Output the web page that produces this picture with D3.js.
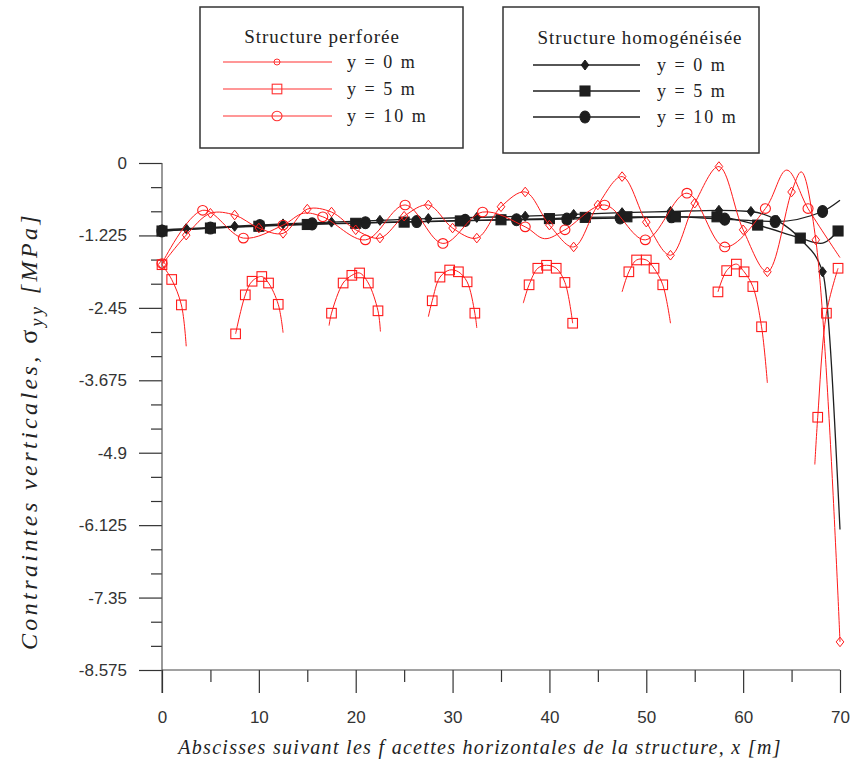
<!DOCTYPE html>
<html><head><meta charset="utf-8">
<script src="https://cdn.jsdelivr.net/npm/d3@7/dist/d3.min.js"></script>
<style>body{margin:0;background:#fff}svg{display:block}</style>
</head><body>
<svg id="c" width="851" height="767"></svg>
<script>
// ---------- data ----------
const xTickValues = [0,10,20,30,40,50,60,70];
const xMinorValues = [5,15,25,35,45,55,65];
const yTickValues = [0,-1.225,-2.45,-3.675,-4.9,-6.125,-7.35,-8.575];
const yTickLabels = ["0","-1.225","-2.45","-3.675","-4.9","-6.125","-7.35","-8.575"];

const legendTitles = ["Structure perforée","Structure homogénéisée"];
const legendLabels = ["y = 0 m","y = 5 m","y = 10 m"];
const xTitle = "Abscisses suivant les f acettes horizontales de la structure, x [m]";

// Structure perforée, y = 0 m
const perf0X = [0,2.5,5,7.5,10,12.5,15,17.5,20,22.5,25,27.5,30,32.5,35,37.5,40,42.5,45,47.5,50,52.5,55,57.5,60,62.5,65,66,67.5,70];
const perf0V = [-1.72,-1.22,-0.85,-0.88,-1.1,-1.19,-0.78,-0.83,-1.13,-1.27,-0.9,-0.71,-1.1,-1.27,-0.74,-0.49,-1.05,-1.42,-0.71,-0.23,-1.0,-1.56,-0.68,-0.06,-1.13,-1.84,-0.49,-0.15,-1.3,-8.1];
const perf0M = [1,1,1,1,1,1,1,1,1,1,1,1,1,1,1,1,1,1,1,1,1,1,1,1,1,1,1,0,1,1];

// Structure perforée, y = 10 m
const perf10X = [0,4.2,8.4,12.5,14.6,16.6,21,25.1,29,33.1,37.5,39.5,41.6,45.7,49.9,54.2,58.1,62.3,64.5,66.7,70];
const perf10V = [-1.7,-0.8,-1.27,-1.05,-0.85,-0.91,-1.3,-0.71,-1.36,-0.83,-1.08,-1.28,-1.13,-0.71,-1.3,-0.51,-1.42,-0.77,-0.12,-0.77,-1.6];
const perf10M = [1,1,1,1,0,1,1,1,1,1,1,0,1,1,1,1,1,1,0,1,0];

// Structure perforée, y = 5 m (arcs between the holes)
const perf5X = [
  [0,1.0,2.0,2.5],
  [7.6,8.6,9.3,10.3,11.0,12.0,12.5],
  [17.25,17.5,18.7,19.6,20.4,21.3,22.3,22.55],
  [27.5,27.9,28.7,29.7,30.6,31.5,32.3,32.5],
  [37.3,37.9,38.8,39.7,40.7,41.6,42.4],
  [47.5,48.2,49.0,50.0,50.8,51.7,52.5],
  [57.4,58.3,59.3,60.1,61.0,61.9,62.5],
  [67.4,67.7,68.6,69.8]
];
const perf5V = [
  [-1.72,-1.97,-2.40,-3.1],
  [-2.89,-2.23,-2.0,-1.92,-2.03,-2.39,-2.87],
  [-2.75,-2.54,-2.03,-1.90,-1.86,-2.03,-2.50,-2.85],
  [-2.6,-2.33,-1.93,-1.81,-1.84,-2.01,-2.54,-2.79],
  [-2.37,-2.06,-1.78,-1.73,-1.78,-2.02,-2.71],
  [-2.18,-1.84,-1.64,-1.64,-1.78,-2.06,-2.71],
  [-2.18,-1.82,-1.71,-1.84,-2.09,-2.77,-3.72],
  [-5.1,-4.3,-2.54,-1.78]
];
const perf5M = [
  [1,1,1,0],
  [1,1,1,1,1,1,0],
  [0,1,1,1,1,1,1,0],
  [0,1,1,1,1,1,1,0],
  [0,1,1,1,1,1,1],
  [0,1,1,1,1,1,0],
  [1,1,1,1,1,1,0],
  [0,1,1,1]
];

// Structure homogénéisée
const hom0X = [0,2.5,7.5,12.5,17.5,22.5,27.5,32.5,37.5,42.5,47.5,52.5,57.5,60.8,63.5,66,68.2,70];
const hom0V = [-1.13,-1.11,-1.07,-1.03,-1.0,-0.97,-0.94,-0.92,-0.9,-0.87,-0.84,-0.82,-0.8,-0.82,-0.97,-1.3,-1.84,-6.2];
const hom0M = [1,1,1,1,1,1,1,1,1,1,1,1,1,1,1,0,1,0];

const hom5X = [0,5,10,15,20,25,30.8,35,40,43.7,48,53,57.3,61.5,65.9,68,69.8];
const hom5V = [-1.15,-1.1,-1.07,-1.04,-1.02,-1.0,-0.98,-0.96,-0.94,-0.92,-0.91,-0.91,-0.91,-1.05,-1.27,-1.36,-1.15];
const hom5M = [1,1,1,1,1,1,1,1,1,1,1,1,1,1,1,0,1];

const hom10X = [0,5,10.1,15.5,21,26.3,31.3,36.6,41.8,47.3,52.6,58.1,63.3,68.2,70];
const hom10V = [-1.15,-1.1,-1.06,-1.03,-1.01,-0.99,-0.97,-0.96,-0.95,-0.93,-0.91,-0.95,-0.99,-0.82,-0.63];
const hom10M = [1,1,1,1,1,1,1,1,1,1,1,1,1,1,0];

// ---------- drawing ----------
const svg = d3.select("#c");
svg.append("rect").attr("width",851).attr("height",767).attr("fill","#fff");

const x = d3.scaleLinear().domain([0,70]).range([162,840]);
const y = d3.scaleLinear().domain([0,-8.575]).range([163,670]);

const RED = "#ff1a1a", BLACK = "#1e1e1e";
const tickFont = "'Liberation Sans', Arial, sans-serif";
const serif = "'Liberation Serif', 'Times New Roman', serif";

// y axis
const yMinor = [];
for (let i=0;i<yTickValues.length-1;i++){
  const a=yTickValues[i], b=yTickValues[i+1];
  yMinor.push(a+(b-a)/3, a+2*(b-a)/3);
}
const gy = svg.append("g").attr("transform","translate(162,0)");
gy.call(d3.axisLeft(y).tickValues(yTickValues).tickSize(23).tickPadding(12)
    .tickFormat((d,i)=>yTickLabels[i]));
gy.select(".domain").remove();
gy.append("g").call(d3.axisLeft(y).tickValues(yMinor).tickSize(11).tickFormat(""))
  .select(".domain").remove();
gy.selectAll("line").attr("stroke","#333").attr("stroke-width",1.2);
gy.selectAll("text").attr("font-family",tickFont).attr("font-size",17).attr("fill","#333");
svg.append("line").attr("x1",162).attr("x2",162).attr("y1",163).attr("y2",693)
  .attr("stroke","#555").attr("stroke-width",1.2);

// x axis
const gx = svg.append("g").attr("transform","translate(0,"+y(-8.575)+")");
gx.call(d3.axisBottom(x).tickValues(xTickValues).tickSize(23).tickPadding(18).tickFormat(d3.format("d")));
gx.select(".domain").remove();
gx.append("g").call(d3.axisBottom(x).tickValues(xMinorValues).tickSize(12).tickFormat(""))
  .select(".domain").remove();
gx.selectAll("line").attr("stroke","#333").attr("stroke-width",1.2);
gx.selectAll("text").attr("font-family",tickFont).attr("font-size",17).attr("fill","#333");
svg.append("line").attr("x1",162).attr("x2",840).attr("y1",y(-8.575)).attr("y2",y(-8.575))
  .attr("stroke","#444").attr("stroke-width",1);

// axis titles
svg.append("text").attr("x",480).attr("y",754).attr("text-anchor","middle")
  .attr("font-family",serif).attr("font-style","italic").attr("font-size",20)
  .attr("letter-spacing",1.3).attr("fill","#222").text(xTitle);

const yt = svg.append("text").attr("transform","translate(37,431) rotate(-90)")
  .attr("text-anchor","middle").attr("font-family",serif).attr("font-size",24)
  .attr("fill","#222").attr("letter-spacing",3.4);
yt.append("tspan").attr("font-style","italic").text("Contraintes verticales, ");
yt.append("tspan").attr("font-size",26).text("σ");
yt.append("tspan").attr("font-style","italic").attr("font-size",18).attr("dy",6).text("yy");
yt.append("tspan").attr("font-style","italic").attr("dy",-6).text(" [MPa]");

// helpers
const zip = (xs,vs)=>xs.map((d,i)=>[d,vs[i]]);
const smooth = d3.line().x(d=>x(d[0])).y(d=>y(d[1])).curve(d3.curveCatmullRom.alpha(0.5));
const mono = d3.line().x(d=>x(d[0])).y(d=>y(d[1])).curve(d3.curveMonotoneX);

function marker(g, type, cx, cy, color, filled){
  const fill = filled ? color : "none";
  if (type==="diamond"){
    const w = filled?3.8:3.8, h = filled?5:4.8;
    g.append("path").attr("d",`M${cx},${cy-h}L${cx+w},${cy}L${cx},${cy+h}L${cx-w},${cy}Z`)
      .attr("fill",fill).attr("stroke",color).attr("stroke-width",1);
  } else if (type==="square"){
    const s = filled?5:4.8;
    g.append("rect").attr("x",cx-s).attr("y",cy-s).attr("width",2*s).attr("height",2*s)
      .attr("fill",fill).attr("stroke",color).attr("stroke-width",1.1);
  } else if (type==="circle"){
    g.append("ellipse").attr("cx",cx).attr("cy",cy).attr("rx",filled?5:5).attr("ry",filled?6:4.8)
      .attr("fill",fill).attr("stroke",color).attr("stroke-width",1.1);
  } else if (type==="dot"){
    g.append("circle").attr("cx",cx).attr("cy",cy).attr("r",3)
      .attr("fill",fill).attr("stroke",color).attr("stroke-width",1);
  }
}

function series(xs, vs, ms, type, color, filled, curve){
  const g = svg.append("g");
  g.append("path").attr("d",curve(zip(xs,vs))).attr("fill","none")
    .attr("stroke",color).attr("stroke-width",filled?1.3:1);
  xs.forEach((d,i)=>{ if(ms[i]) marker(g,type,x(d),y(vs[i]),color,filled); });
}

// homogenised (black)
series(hom10X,hom10V,hom10M,"circle",BLACK,true,mono);
series(hom5X,hom5V,hom5M,"square",BLACK,true,mono);
series(hom0X,hom0V,hom0M,"diamond",BLACK,true,mono);

// perforated (red)
perf5X.forEach((xs,k)=>series(xs,perf5V[k],perf5M[k],"square",RED,false,smooth));
series(perf10X,perf10V,perf10M,"circle",RED,false,smooth);
series(perf0X,perf0V,perf0M,"diamond",RED,false,smooth);

// ---------- legends ----------
function legend(bx,by,bw,bh,title,titleX,titleY,rowsY,lx1,lx2,mx,tx,color,filled,types){
  const g = svg.append("g");
  g.append("rect").attr("x",bx).attr("y",by).attr("width",bw).attr("height",bh)
    .attr("fill","#fff").attr("stroke","#333").attr("stroke-width",1.5);
  g.append("text").attr("x",titleX).attr("y",titleY).attr("text-anchor","middle")
    .attr("font-family",serif).attr("font-size",19).attr("letter-spacing",1)
    .attr("fill","#222").text(title);
  legendLabels.forEach((lab,i)=>{
    const yy = rowsY[i];
    g.append("line").attr("x1",lx1).attr("x2",lx2).attr("y1",yy).attr("y2",yy)
      .attr("stroke",color).attr("stroke-width",filled?1.3:1.2);
    marker(g,types[i],mx,yy,color,filled);
    g.append("text").attr("x",tx).attr("y",yy+6).attr("font-family",serif)
      .attr("font-size",18).attr("letter-spacing",2).attr("fill","#222")
      .attr("xml:space","preserve").text(lab);
  });
}
legend(200,7,263,141,legendTitles[0],322,43,[62,89,116],223,332,277,347,"#ff3030",false,["dot","square","circle"]);
legend(503,7,256,146,legendTitles[1],640,44,[65,91,117],533,640,585,657,BLACK,true,["diamond","square","circle"]);
</script>
</body></html>
